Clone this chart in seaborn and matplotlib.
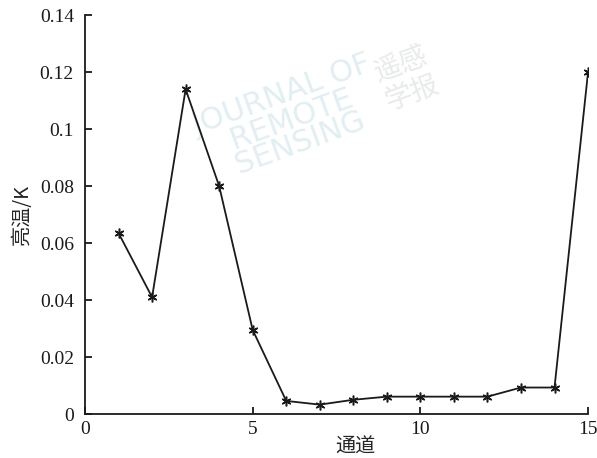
import numpy as np
import pandas as pd
import matplotlib
matplotlib.use("Agg")
import matplotlib.pyplot as plt
import seaborn as sns

# Channel number and brightness-temperature error (K)
channels = [1, 2, 3, 4, 5, 6, 7, 8, 9, 10, 11, 12, 13, 14, 15]
bt_error = [0.0635, 0.041, 0.114, 0.080, 0.0295, 0.0046, 0.0033, 0.0050,
            0.0061, 0.0061, 0.0061, 0.0061, 0.0093, 0.0093, 0.120]
x_ticks = [0, 5, 10, 15]
y_ticks = [0, 0.02, 0.04, 0.06, 0.08, 0.1, 0.12, 0.14]
y_ticklabels = ["0", "0.02", "0.04", "0.06", "0.08", "0.1", "0.12", "0.14"]

sns.set_style("ticks")
plt.rcParams["font.family"] = ["Liberation Serif", "Noto Sans CJK SC"]
plt.rcParams["axes.unicode_minus"] = False

df = pd.DataFrame({"通道": channels, "亮温/K": bt_error})

fig = plt.figure(figsize=(5.97, 4.58), dpi=100)
ax = fig.add_axes([0.1424, 0.096, 0.8426, 0.871])

# faint journal watermark behind the data
ax.text(0.41, 0.74, "JOURNAL OF\nREMOTE\nSENSING", transform=ax.transAxes,
        fontsize=22, color="#e2eef2", rotation=20, ha="center", va="center",
        family="DejaVu Sans", linespacing=0.85, zorder=0)
ax.text(0.64, 0.84, "遥感\n学报", transform=ax.transAxes,
        fontsize=20, color="#e8eaeb", rotation=20, ha="center", va="center",
        family="Noto Sans CJK SC", linespacing=1.0, zorder=0)

sns.lineplot(data=df, x="通道", y="亮温/K", ax=ax, color="#1a1a1a",
             linewidth=1.3, marker=(6, 2, 0), markersize=7,
             markeredgewidth=1.1, markeredgecolor="#1a1a1a", zorder=3)

ax.set_xlim(0, 15)
ax.set_ylim(0, 0.14)
ax.set_xticks(x_ticks)
ax.set_yticks(y_ticks)
ax.set_yticklabels(y_ticklabels)
ax.tick_params(direction="in", length=5, width=1.3, labelsize=14,
               colors="#1a1a1a")
ax.tick_params(axis="y", pad=8)
ax.tick_params(axis="x", pad=5)
for s in ["top", "right"]:
    ax.spines[s].set_visible(False)
for s in ["left", "bottom"]:
    ax.spines[s].set_linewidth(1.3)
    ax.spines[s].set_color("#1a1a1a")

ax.set_xlabel("通道", fontsize=14.5, family="Noto Sans CJK SC")
ax.set_ylabel("亮温/K", fontsize=14.5, family="Noto Sans CJK SC")
ax.xaxis.set_label_coords(0.537, -0.058)
ax.yaxis.set_label_coords(-0.103, 0.5)

fig.savefig("out.png", dpi=100)
